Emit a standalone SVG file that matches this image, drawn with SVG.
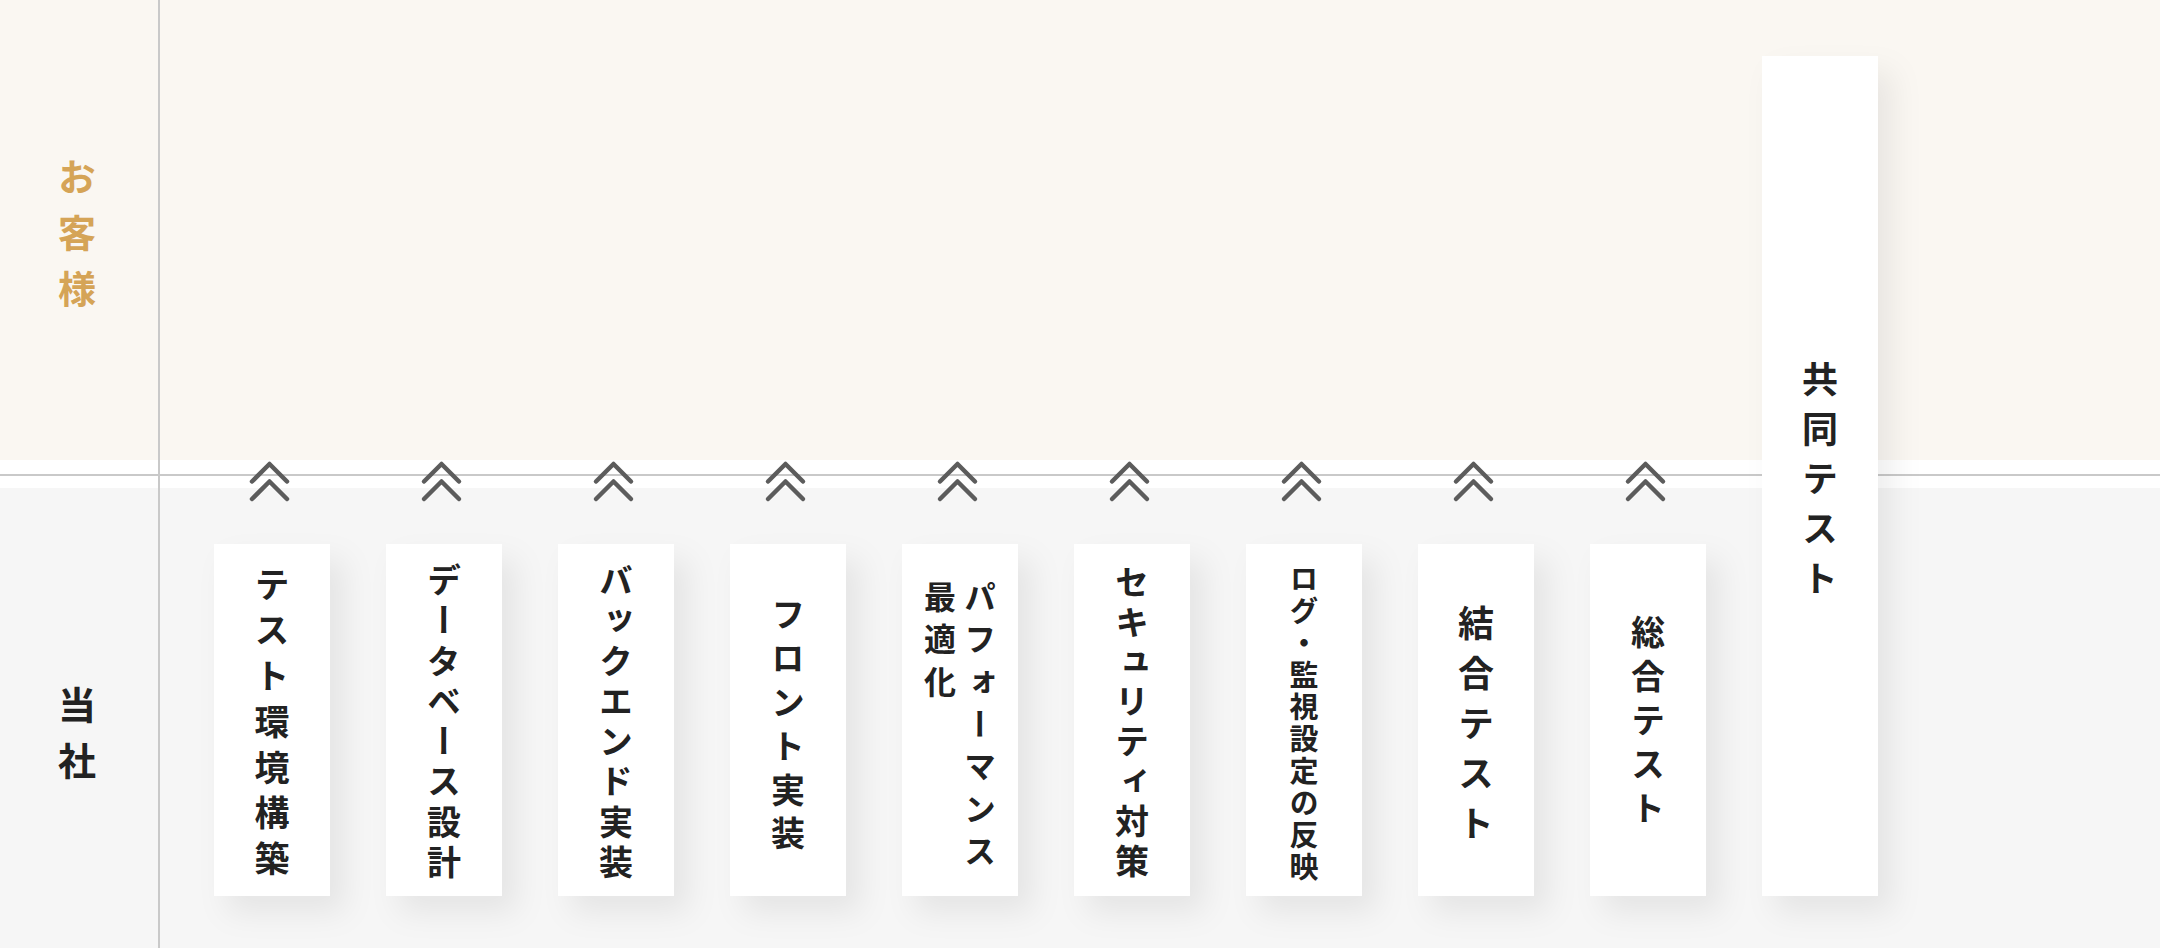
<svg xmlns="http://www.w3.org/2000/svg" width="2160" height="948" viewBox="0 0 2160 948">
<defs>
<style>
.box{fill:#ffffff;filter:url(#sh)}
.t{font-family:"Noto Sans CJK JP","Noto Sans CJK SC",sans-serif;font-weight:700;fill:#222222;writing-mode:vertical-rl}
.lbl{font-size:38px;letter-spacing:18px}
.cust{fill:#d5a457}
.chev{fill:none;stroke:#5c5c5c;stroke-width:4.5;stroke-linecap:round;stroke-linejoin:round}
.rule{stroke:#c9c9c9;stroke-width:2}
</style>
<filter id="sh" x="-50%" y="-20%" width="220%" height="150%">
<feDropShadow dx="14" dy="16" stdDeviation="15" flood-color="#000" flood-opacity="0.07"/>
</filter>
<g id="chv">
<path class="chev" d="M-17.5 481.5 L0 464 L17.5 481.5"/>
<path class="chev" d="M-17.5 499 L0 481.5 L17.5 499"/>
</g>
</defs>
<rect x="0" y="0" width="2160" height="948" fill="#ffffff"/>
<rect x="0" y="0" width="2160" height="460" fill="#faf7f2"/>
<rect x="0" y="488" width="2160" height="460" fill="#f6f6f6"/>
<line class="rule" x1="0" y1="475" x2="2160" y2="475"/>
<line class="rule" x1="159" y1="0" x2="159" y2="948"/>
<g id="lane-customer"><text class="t lbl cust" x="77" y="158">お客様</text></g>
<g id="lane-us"><text class="t lbl" x="77" y="686">当社</text></g>
<g id="connectors">
<use href="#chv" x="269.5"/>
<use href="#chv" x="441.5"/>
<use href="#chv" x="613.5"/>
<use href="#chv" x="785.5"/>
<use href="#chv" x="957.5"/>
<use href="#chv" x="1129.5"/>
<use href="#chv" x="1301.5"/>
<use href="#chv" x="1473.5"/>
<use href="#chv" x="1645.5"/>
</g>
<g id="n1"><rect class="box" x="214" y="544" width="116" height="352"/><text class="t" x="272" y="567" style="font-size:35px;letter-spacing:10.7px">テスト環境構築</text></g>
<g id="n2"><rect class="box" x="386" y="544" width="116" height="352"/><text class="t" x="444" y="563" style="font-size:34px;letter-spacing:6.3px">データベース設計</text></g>
<g id="n3"><rect class="box" x="558" y="544" width="116" height="352"/><text class="t" x="616" y="563" style="font-size:34px;letter-spacing:6.3px">バックエンド実装</text></g>
<g id="n4"><rect class="box" x="730" y="544" width="116" height="352"/><text class="t" x="788" y="597" style="font-size:34px;letter-spacing:9.9px">フロント実装</text></g>
<g id="n5"><rect class="box" x="902" y="544" width="116" height="352"/><text class="t" x="980" y="581" style="font-size:32px;letter-spacing:10.3px">パフォーマンス</text><text class="t" x="940" y="581" style="font-size:32px;letter-spacing:10.3px">最適化</text></g>
<g id="n6"><rect class="box" x="1074" y="544" width="116" height="352"/><text class="t" x="1132" y="565" style="font-size:34px;letter-spacing:5.8px">セキュリティ対策</text></g>
<g id="n7"><rect class="box" x="1246" y="544" width="116" height="352"/><text class="t" x="1304" y="564" style="font-size:29px;letter-spacing:3px">ログ・監視設定の反映</text></g>
<g id="n8"><rect class="box" x="1418" y="544" width="116" height="352"/><text class="t" x="1476" y="605" style="font-size:36px;letter-spacing:14px">結合テスト</text></g>
<g id="n9"><rect class="box" x="1590" y="544" width="116" height="352"/><text class="t" x="1648" y="615" style="font-size:34px;letter-spacing:10px">総合テスト</text></g>
<g id="n10"><rect class="box" x="1762" y="56" width="116" height="840"/><text class="t" x="1820" y="361" style="font-size:36px;letter-spacing:13.9px">共同テスト</text></g>
</svg>
